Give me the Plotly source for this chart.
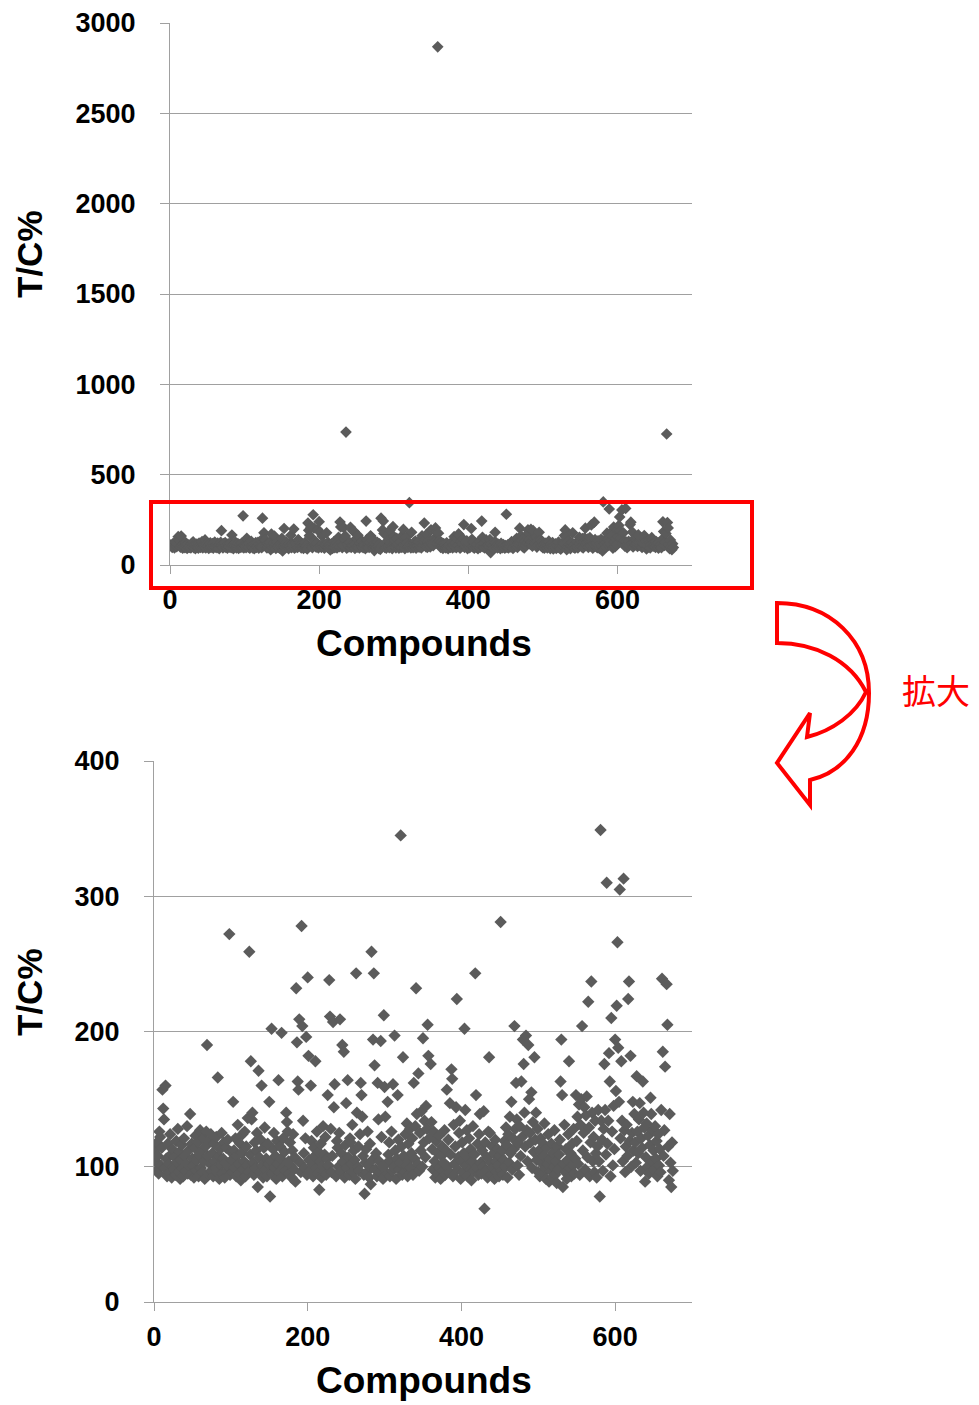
import plotly.graph_objects as go

# ---------------- data (T/C% per compound) ----------------
tc_000_099 = [
    112, 104, 97, 118, 108, 95, 126, 122, 101, 114, 157, 143, 135, 99, 160, 106, 93, 117, 102, 96, 124, 109, 92, 113, 100,
    98, 107, 94, 119, 103, 128, 96, 111, 91, 105, 116, 99, 93, 121, 108, 97, 102, 130, 95, 112, 100, 139, 94, 117, 106,
    101, 92, 114, 123, 97, 105, 118, 93, 109, 127, 99, 112, 96, 121, 104, 91, 115, 126, 190, 108, 95, 119, 102, 124, 97,
    110, 93, 117, 104, 99, 122, 96, 166, 108, 91, 113, 101, 125, 95, 106, 118, 92, 103, 114, 97, 120, 100, 272, 94, 111,
]
tc_100_199 = [
    105, 96, 148, 112, 99, 121, 93, 108, 131, 102, 95, 117, 90, 110, 124, 98, 104, 126, 93, 115, 101, 136, 96, 259, 109,
    178, 135, 140, 103, 94, 118, 99, 112, 125, 85, 171, 107, 96, 120, 160, 101, 92, 114, 129, 98, 106, 93, 117, 102, 148,
    78, 104, 202, 95, 113, 125, 99, 108, 91, 119, 102, 164, 96, 115, 106, 199, 93, 121, 100, 111, 97, 140, 133, 126, 104,
    95, 118, 101, 92, 112, 124, 98, 107, 89, 232, 192, 163, 157, 209, 103, 96, 278, 204, 134, 110, 99, 121, 196, 94, 240,
]
tc_200_299 = [
    182, 105, 97, 160, 119, 102, 93, 114, 108, 178, 99, 126, 95, 111, 83, 104, 117, 92, 100, 130, 96, 109, 122, 94, 106,
    153, 101, 238, 211, 128, 96, 108, 207, 144, 161, 736, 93, 119, 114, 100, 125, 209, 97, 110, 190, 104, 185, 92, 116, 147,
    99, 164, 107, 94, 121, 118, 102, 131, 96, 112, 105, 91, 243, 140, 100, 115, 97, 124, 162, 153, 137, 108, 94, 80, 103,
    113, 96, 126, 101, 92, 117, 87, 259, 105, 194, 243, 175, 98, 110, 93, 162, 135, 104, 96, 193, 122, 100, 91, 212, 159,
]
tc_300_399 = [
    137, 102, 95, 148, 109, 118, 93, 104, 126, 97, 161, 100, 197, 112, 91, 106, 153, 120, 98, 103, 345, 115, 94, 181, 108,
    96, 124, 101, 132, 93, 117, 105, 128, 99, 110, 121, 94, 162, 106, 130, 232, 139, 102, 169, 97, 125, 112, 141, 100, 195,
    118, 134, 107, 145, 128, 205, 182, 121, 2868, 176, 133, 113, 98, 126, 104, 92, 119, 101, 110, 95, 123, 99, 91, 108, 115,
    97, 103, 127, 94, 112, 157, 100, 120, 96, 147, 109, 172, 165, 93, 131, 102, 115, 144, 224, 98, 107, 125, 134, 91, 104,
]
tc_400_499 = [
    118, 96, 110, 202, 142, 101, 127, 93, 106, 121, 98, 113, 90, 104, 130, 97, 109, 243, 153, 100, 117, 94, 124, 139, 103,
    95, 112, 100, 141, 69, 118, 97, 107, 92, 126, 181, 125, 103, 94, 115, 99, 110, 91, 120, 104, 96, 113, 101, 93, 108,
    281, 97, 112, 94, 105, 119, 100, 129, 116, 92, 124, 103, 137, 110, 148, 98, 121, 113, 204, 128, 162, 135, 101, 117, 94,
    130, 108, 163, 122, 194, 176, 140, 115, 197, 127, 104, 190, 150, 125, 118, 155, 99, 133, 111, 181, 120, 140, 105, 128, 96,
]
tc_500_599 = [
    112, 93, 121, 103, 118, 95, 108, 132, 99, 91, 114, 102, 124, 89, 106, 97, 117, 92, 110, 100, 127, 94, 104, 88, 115,
    98, 109, 120, 163, 194, 153, 85, 102, 131, 96, 113, 91, 105, 124, 178, 99, 110, 93, 117, 101, 128, 95, 106, 153, 119,
    137, 102, 146, 94, 131, 150, 204, 112, 125, 144, 98, 138, 152, 107, 222, 129, 93, 118, 237, 140, 104, 122, 96, 134, 110,
    92, 115, 142, 104, 78, 349, 134, 120, 97, 128, 176, 142, 109, 310, 117, 134, 184, 163, 93, 210, 126, 101, 145, 113, 194,
]
tc_600_674 = [
    156, 219, 266, 188, 148, 305, 121, 178, 134, 104, 313, 127, 96, 115, 131, 108, 224, 237, 119, 182, 100, 125, 148, 112, 139,
    118, 103, 167, 126, 110, 135, 147, 97, 121, 114, 163, 140, 129, 89, 107, 132, 100, 123, 95, 116, 151, 139, 104, 127, 112,
    98, 130, 106, 119, 93, 124, 101, 113, 96, 142, 239, 185, 108, 127, 174, 725, 235, 205, 115, 90, 139, 103, 85, 118, 97,
]
tc_percent = tc_000_099 + tc_100_199 + tc_200_299 + tc_300_399 + tc_400_499 + tc_500_599 + tc_600_674
compounds = list(range(1, len(tc_percent) + 1))

top_y_ticks = [0, 500, 1000, 1500, 2000, 2500, 3000]
bottom_y_ticks = [0, 100, 200, 300, 400]
x_ticks = [0, 200, 400, 600]
x_title = "Compounds"
y_title = "T/C%"
zoom_label = "拡大"

# ---------------- figure ----------------
W, H = 979, 1405
def px(x):
    return x / W
def py(y):
    return 1 - y / H

MARK = "#5B5B5B"
GRID = "#A0A0A0"
FONT = "Liberation Sans, Arial, sans-serif"

fig = go.Figure()
fig.add_trace(go.Scatter(x=compounds, y=tc_percent, mode="markers", xaxis="x", yaxis="y",
                         marker=dict(symbol="diamond", size=9, color=MARK, line=dict(width=0)),
                         showlegend=False, cliponaxis=True))
fig.add_trace(go.Scatter(x=compounds, y=tc_percent, mode="markers", xaxis="x2", yaxis="y2",
                         marker=dict(symbol="diamond", size=9.5, color=MARK, line=dict(width=0)),
                         showlegend=False, cliponaxis=True))

tickfont = dict(family=FONT, size=27, color="black", weight="bold")
common_x = dict(range=[0, 700], tickvals=x_ticks, showgrid=False, zeroline=False, showline=True,
                linecolor=GRID, linewidth=1, ticks="outside", ticklen=8, tickcolor=GRID,
                tickfont=tickfont, ticklabelstandoff=3, fixedrange=True, automargin=False)
common_y = dict(showgrid=True, gridcolor=GRID, gridwidth=1, zeroline=False, showline=True,
                linecolor=GRID, linewidth=1, ticks="outside", ticklen=9, tickcolor=GRID,
                tickfont=tickfont, ticklabelstandoff=19, fixedrange=True, automargin=False)

fig.update_layout(
    width=W, height=H, margin=dict(l=0, r=0, t=0, b=0, pad=0, autoexpand=False),
    paper_bgcolor="white", plot_bgcolor="white",
    xaxis=dict(domain=[px(170), px(692)], anchor="y", **common_x),
    yaxis=dict(domain=[py(565), py(23)], anchor="x", range=[0, 3000], tickvals=top_y_ticks, **common_y),
    xaxis2=dict(domain=[px(154), px(692)], anchor="y2", **common_x),
    yaxis2=dict(domain=[py(1302), py(761)], anchor="x2", range=[0, 400], tickvals=bottom_y_ticks, **common_y),
)

title_font = dict(family=FONT, size=37, color="black", weight="bold")
ytitle_font = dict(family=FONT, size=35, color="black", weight="bold")
for (xc, yc) in [(424, 643), (424, 1380)]:
    fig.add_annotation(text=x_title, x=px(xc), y=py(yc), xref="paper", yref="paper",
                       showarrow=False, font=title_font, xanchor="center", yanchor="middle")
for (xc, yc) in [(29, 254), (29, 992)]:
    fig.add_annotation(text=y_title, x=px(xc), y=py(yc), xref="paper", yref="paper",
                       showarrow=False, font=ytitle_font, textangle=-90, xanchor="center", yanchor="middle")
fig.add_annotation(text=zoom_label, x=px(936), y=py(689), xref="paper", yref="paper", showarrow=False,
                   font=dict(family="Noto Sans CJK JP", size=34, color="#FF0000"),
                   xanchor="center", yanchor="middle")

# red highlight rectangle
fig.add_shape(type="rect", xref="paper", yref="paper", x0=px(151), x1=px(752), y0=py(588), y1=py(502),
              line=dict(color="#FF0000", width=4), fillcolor="rgba(0,0,0,0)", layer="above")

# curved block arrow (outline)
def P(x, y):
    return f"{px(x):.5f},{py(y):.5f}"
arrow_path = (
    f"M {P(777, 603)} "
    f"C {P(830, 603)} {P(869, 640)} {P(869, 693)} "
    f"C {P(869, 740)} {P(845, 772)} {P(810, 780)} "
    f"L {P(810, 805)} L {P(777, 763)} L {P(810, 713)} L {P(807, 737)} "
    f"C {P(832, 731)} {P(856, 714)} {P(866, 692)} "
    f"C {P(850, 660)} {P(815, 643)} {P(777, 643)} Z"
)
fig.add_shape(type="path", xref="paper", yref="paper", path=arrow_path,
              line=dict(color="#FF0000", width=4), fillcolor="white", layer="above")

fig.write_html("out.html")
